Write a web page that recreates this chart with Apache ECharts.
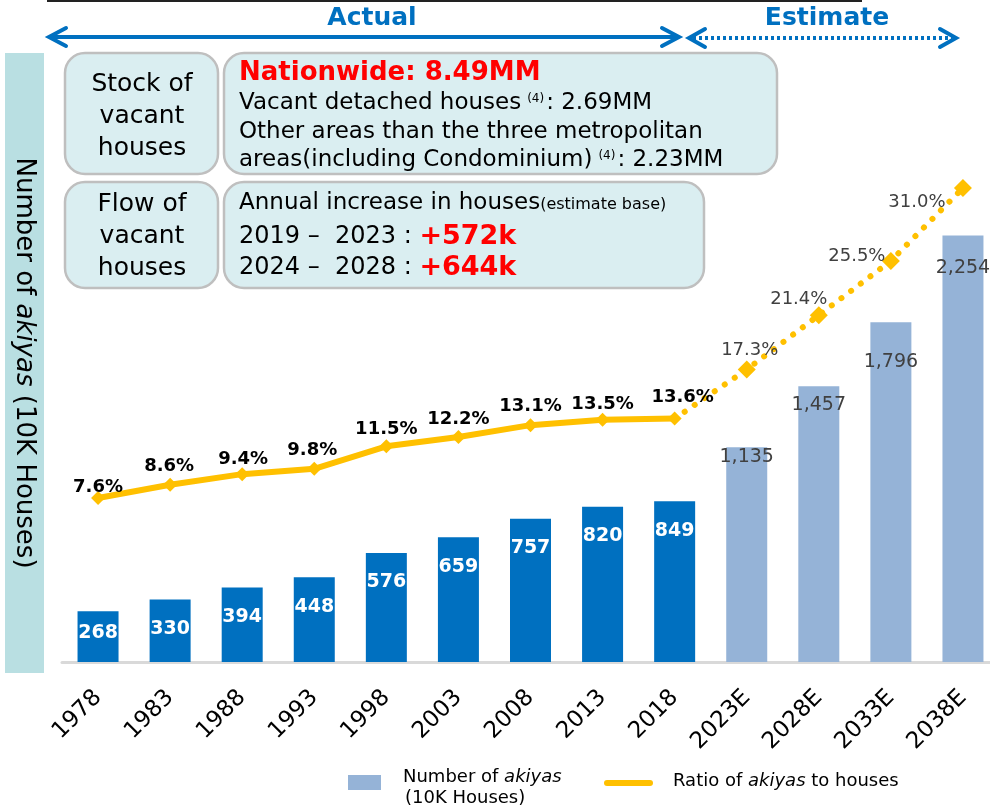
<!DOCTYPE html>
<html>
<head>
<meta charset="utf-8">
<script src="https://cdn.jsdelivr.net/npm/echarts@6/dist/echarts.min.js"></script>
<style>
  html, body { margin: 0; padding: 0; background: #fff; }
  #main { width: 990px; height: 806px; }
</style>
</head>
<body>
<div id="main"></div>
<script>
// 数据
var years = ['1978', '1983', '1988', '1993', '1998', '2003', '2008', '2013', '2018', '2023E', '2028E', '2033E', '2038E'];
var akiyaCount = [268, 330, 394, 448, 576, 659, 757, 820, 849, 1135, 1457, 1796, 2254];
var akiyaRatio = [7.6, 8.6, 9.4, 9.8, 11.5, 12.2, 13.1, 13.5, 13.6, 17.3, 21.4, 25.5, 31.0];
var lastActual = 8; // 2018

// label tweaks (style only)
var barLabelGap = [12, 20, 20, 20, 20, 20, 20, 20, 20, 0, 9, 30, 23];
var ratioLabelShift = [[0, -11], [-1, -18], [1, -15], [-2, -19], [0, -17], [0, -18], [0, -19], [0, -16], [8, -21],
  [3, -19], [-20, -16], [-34, -5], [-46, 14]];

var FONT = 'DejaVu Sans';
var BLUE = '#0070C0', LIGHT = '#95B3D7', GOLD = '#FFC000';

var myChart = echarts.init(document.getElementById('main'), null, { renderer: 'canvas' });

var barData = akiyaCount.map(function (v, i) {
  var est = i > lastActual;
  return {
    value: v,
    itemStyle: { color: est ? LIGHT : BLUE },
    label: {
      distance: barLabelGap[i],
      color: est ? '#404040' : '#fff',
      fontWeight: est ? 'normal' : 'bold'
    }
  };
});

var solidData = akiyaRatio.map(function (v, i) {
  if (i > lastActual) return '-';
  return { value: v, label: { offset: ratioLabelShift[i] } };
});
var dottedData = akiyaRatio.map(function (v, i) {
  if (i < lastActual) return '-';
  if (i == lastActual) return { value: v, symbolSize: 0, label: { show: false } };
  return { value: v, label: { offset: ratioLabelShift[i] } };
});

// 图上的框和文字
function box(x, y, w, h) {
  return { type: 'rect', shape: { x: x, y: y, width: w, height: h, r: 20 },
    style: { fill: '#DAEEF1', stroke: '#BFBFBF', lineWidth: 2.5 }, z: 10 };
}
function txt(x, y, s, opt) {
  var st = { text: s, x: x, y: y, fontFamily: FONT, fontSize: 23, fill: '#000', align: 'left', verticalAlign: 'middle' };
  for (var k in opt) st[k] = opt[k];
  return { type: 'text', style: st, z: 11 };
}
var sup = { fontSize: 12, fontFamily: FONT, fill: '#000', padding: [0, 2, 8, 6] };
var norm = { fontFamily: FONT, fontSize: 23, fill: '#000' };
var redBig = { fontFamily: FONT, fontSize: 27, fontWeight: 'bold', fill: '#FF0000' };
var big = { fontFamily: FONT, fontSize: 24, fill: '#000' };
var leg = { fontFamily: FONT, fontSize: 18, fill: '#000' };
var legI = { fontFamily: FONT, fontSize: 18, fontStyle: 'italic', fill: '#000' };

var graphics = [
  { type: 'line', shape: { x1: 47, y1: 1, x2: 862, y2: 1 }, style: { stroke: '#222', lineWidth: 2 } },
  // Actual arrow
  { type: 'line', shape: { x1: 49, y1: 37, x2: 678, y2: 37 }, style: { stroke: BLUE, lineWidth: 4 } },
  { type: 'polyline', shape: { points: [[66, 28], [49, 37], [66, 46]] }, style: { stroke: BLUE, lineWidth: 4, fill: null, lineCap: 'round' } },
  { type: 'polyline', shape: { points: [[662, 28], [679, 37], [662, 46]] }, style: { stroke: BLUE, lineWidth: 4, fill: null, lineCap: 'round' } },
  // Estimate arrow
  { type: 'line', shape: { x1: 693, y1: 38, x2: 952, y2: 38 }, style: { stroke: BLUE, lineWidth: 4, lineDash: [3, 3] } },
  { type: 'polyline', shape: { points: [[705, 29], [689, 38], [705, 47]] }, style: { stroke: BLUE, lineWidth: 4, fill: null, lineCap: 'round' } },
  { type: 'polyline', shape: { points: [[940, 29], [956, 38], [940, 47]] }, style: { stroke: BLUE, lineWidth: 4, fill: null, lineCap: 'round' } },
  txt(372, 18, 'Actual', { fontSize: 25, fontWeight: 'bold', fill: BLUE, align: 'center' }),
  txt(827, 18, 'Estimate', { fontSize: 25, fontWeight: 'bold', fill: BLUE, align: 'center' }),
  // y 轴标题
  { type: 'rect', shape: { x: 5, y: 53, width: 39, height: 620 }, style: { fill: '#B9DFE2' } },
  { type: 'text', x: 24, y: 363, rotation: -Math.PI / 2, z: 11,
    style: { text: '{n|Number of }{i|akiyas}{n| (10K Houses)}', align: 'center', verticalAlign: 'middle',
      rich: { n: { fontFamily: FONT, fontSize: 26, fill: '#000' }, i: { fontFamily: FONT, fontSize: 26, fontStyle: 'italic', fill: '#000' } } } },
  box(65, 53, 153, 121), box(224, 53, 553, 121), box(65, 182, 153, 106), box(224, 182, 480, 106),
  txt(142, 84, 'Stock of', { fontSize: 25, align: 'center' }),
  txt(142, 116, 'vacant', { fontSize: 25, align: 'center' }),
  txt(142, 148, 'houses', { fontSize: 25, align: 'center' }),
  txt(142, 204, 'Flow of', { fontSize: 25, align: 'center' }),
  txt(142, 236, 'vacant', { fontSize: 25, align: 'center' }),
  txt(142, 268, 'houses', { fontSize: 25, align: 'center' }),
  txt(239, 73, 'Nationwide: 8.49MM', { fontSize: 26, fontWeight: 'bold', fill: '#FF0000' }),
  txt(239, 103, '{a|Vacant detached houses}{s|(4)}{a|: 2.69MM}', { rich: { a: norm, s: sup } }),
  txt(239, 132, 'Other areas than the three metropolitan', {}),
  txt(239, 160, '{a|areas(including Condominium)}{s|(4)}{a|: 2.23MM}', { rich: { a: norm, s: sup } }),
  txt(239, 203, '{a|Annual increase in houses}{b|(estimate base)}', { rich: { a: norm, b: { fontFamily: FONT, fontSize: 16, fill: '#000', padding: [4, 0, 0, 0] } } }),
  txt(239, 237, '{a|2019 –  2023 : }{r|+572k}', { rich: { a: big, r: redBig } }),
  txt(239, 268, '{a|2024 –  2028 : }{r|+644k}', { rich: { a: big, r: redBig } }),
  // 图例
  { type: 'rect', shape: { x: 348, y: 775, width: 33, height: 15 }, style: { fill: LIGHT } },
  txt(403, 777, '{n|Number of }{i|akiyas}', { rich: { n: leg, i: legI } }),
  txt(405, 798, '(10K Houses)', { fontSize: 18 }),
  { type: 'line', shape: { x1: 607, y1: 783, x2: 650, y2: 783 }, style: { stroke: GOLD, lineWidth: 6, lineCap: 'round' } },
  txt(673, 781, '{n|Ratio of }{i|akiyas}{n| to houses}', { rich: { n: leg, i: legI } })
];

option = {
  animation: false,
  backgroundColor: '#fff',
  grid: { left: 62, right: -9, top: 170, height: 492, outerBoundsMode: 'none', containLabel: false },
  xAxis: {
    type: 'category',
    data: years,
    axisTick: { show: false },
    axisLine: { lineStyle: { color: '#D9D9D9', width: 3 } },
    axisLabel: { interval: 0, rotate: 45, margin: 32, fontFamily: FONT, fontSize: 23, color: '#000' }
  },
  yAxis: [
    { type: 'value', min: 0, max: 2600, show: false, splitLine: { show: false } },
    { type: 'value', min: -4.78, max: 32.36, show: false, splitLine: { show: false } }
  ],
  series: [
    {
      name: 'Number of akiyas',
      type: 'bar',
      barWidth: 41,
      data: barData,
      label: {
        show: true,
        position: 'insideTop',
        fontFamily: FONT,
        fontSize: 19,
        formatter: function (p) { return p.dataIndex > lastActual ? p.value.toLocaleString('en-US') : p.value; }
      }
    },
    {
      name: 'Ratio',
      type: 'line',
      yAxisIndex: 1,
      data: solidData,
      symbol: 'diamond',
      symbolSize: 14,
      itemStyle: { color: GOLD },
      lineStyle: { color: GOLD, width: 6 },
      z: 5,
      label: {
        show: true, position: 'inside', fontFamily: FONT, fontSize: 18, fontWeight: 'bold', color: '#000',
        formatter: function (p) { return p.value.toFixed(1) + '%'; }
      }
    },
    {
      name: 'Ratio estimate',
      type: 'line',
      yAxisIndex: 1,
      data: dottedData,
      symbol: 'diamond',
      symbolSize: 18,
      itemStyle: { color: GOLD },
      lineStyle: { color: GOLD, width: 6, type: [0.1, 12], cap: 'round' },
      z: 4,
      label: {
        show: true, position: 'inside', fontFamily: FONT, fontSize: 18, color: '#404040',
        formatter: function (p) { return p.value.toFixed(1) + '%'; }
      }
    }
  ],
  graphic: graphics
};

myChart.setOption(option);
</script>
</body>
</html>
